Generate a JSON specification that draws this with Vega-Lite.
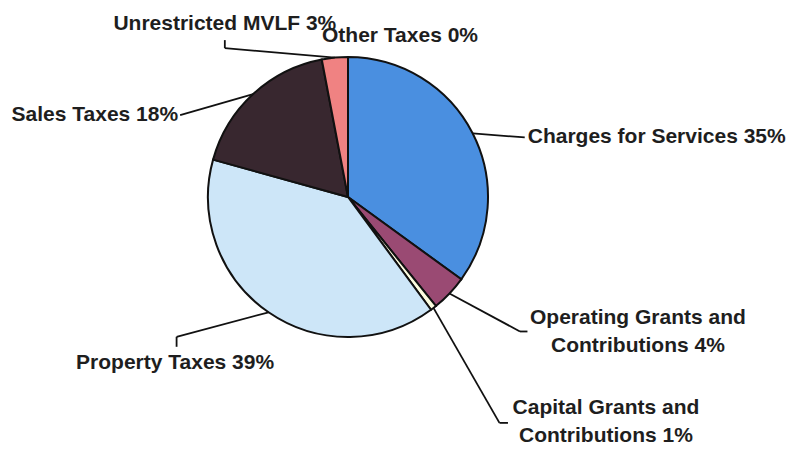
{
  "$schema": "https://vega.github.io/schema/vega-lite/v6.json",
  "width": 280,
  "height": 280,
  "autosize": {"type": "none"},
  "padding": {"left": 208, "top": 57, "right": 298, "bottom": 112},
  "background": "white",
  "config": {"view": {"stroke": null}},
  "data": {
    "values": [
      {"category": "Charges for Services", "label": "Charges for Services 35%", "value": 35.0, "ord": 1},
      {"category": "Operating Grants and Contributions", "label": "Operating Grants and\nContributions 4%", "value": 4.2, "ord": 2},
      {"category": "Capital Grants and Contributions", "label": "Capital Grants and\nContributions 1%", "value": 0.7, "ord": 3},
      {"category": "Property Taxes", "label": "Property Taxes 39%", "value": 39.4, "ord": 4},
      {"category": "Sales Taxes", "label": "Sales Taxes 18%", "value": 17.7, "ord": 5},
      {"category": "Unrestricted MVLF", "label": "Unrestricted MVLF 3%", "value": 3.0, "ord": 6},
      {"category": "Other Taxes", "label": "Other Taxes 0%", "value": 0.0, "ord": 7}
    ]
  },
  "transform": [
    {"window": [{"op": "sum", "field": "value", "as": "cum"}], "sort": [{"field": "ord"}], "frame": [null, 0]},
    {"joinaggregate": [{"op": "sum", "field": "value", "as": "total"}]},
    {"calculate": "2 * PI * (datum.cum - datum.value / 2) / datum.total", "as": "mid"},
    {"calculate": "140 * sin(datum.mid)", "as": "ex"},
    {"calculate": "140 * cos(datum.mid)", "as": "ey"}
  ],
  "layer": [
    {
      "mark": {"type": "arc", "stroke": "#111111", "strokeWidth": 2},
      "encoding": {
        "theta": {"field": "value", "type": "quantitative", "stack": true},
        "order": {"field": "ord", "type": "quantitative"},
        "color": {
          "field": "category",
          "type": "nominal",
          "legend": null,
          "scale": {
            "domain": ["Charges for Services", "Operating Grants and Contributions", "Capital Grants and Contributions", "Property Taxes", "Sales Taxes", "Unrestricted MVLF", "Other Taxes"],
            "range": ["#4a8fe0", "#9a4a73", "#fdfde0", "#cde6f8", "#38272f", "#f08282", "#c8c8c8"]
          }
        }
      }
    },
    {
      "encoding": {
        "x": {"field": "ex", "type": "quantitative", "scale": {"domain": [-140, 140], "nice": false, "zero": false}, "axis": null},
        "y": {"field": "ey", "type": "quantitative", "scale": {"domain": [-140, 140], "nice": false, "zero": false}, "axis": null}
      },
      "layer": [
        {"transform": [{"filter": "datum.ord == 1"}], "mark": {"type": "rule", "color": "#111111", "strokeWidth": 1.8, "x2Offset": 52, "y2Offset": 4}, "encoding": {"x2": {"field": "ex"}, "y2": {"field": "ey"}}},
        {"transform": [{"filter": "datum.ord == 2"}], "mark": {"type": "rule", "color": "#111111", "strokeWidth": 1.8, "x2Offset": 70.5, "y2Offset": 38}, "encoding": {"x2": {"field": "ex"}, "y2": {"field": "ey"}}},
        {"transform": [{"filter": "datum.ord == 2"}], "mark": {"type": "rule", "color": "#111111", "strokeWidth": 1.8, "xOffset": 70.5, "yOffset": 38, "x2Offset": 78, "y2Offset": 38}, "encoding": {"x2": {"field": "ex"}, "y2": {"field": "ey"}}},
        {"transform": [{"filter": "datum.ord == 3"}], "mark": {"type": "rule", "color": "#111111", "strokeWidth": 1.8, "x2Offset": 66, "y2Offset": 115}, "encoding": {"x2": {"field": "ex"}, "y2": {"field": "ey"}}},
        {"transform": [{"filter": "datum.ord == 3"}], "mark": {"type": "rule", "color": "#111111", "strokeWidth": 1.8, "xOffset": 66, "yOffset": 115, "x2Offset": 74.5, "y2Offset": 115}, "encoding": {"x2": {"field": "ex"}, "y2": {"field": "ey"}}},
        {"transform": [{"filter": "datum.ord == 4"}], "mark": {"type": "rule", "color": "#111111", "strokeWidth": 1.8, "x2Offset": -92, "y2Offset": 24.5}, "encoding": {"x2": {"field": "ex"}, "y2": {"field": "ey"}}},
        {"transform": [{"filter": "datum.ord == 4"}], "mark": {"type": "rule", "color": "#111111", "strokeWidth": 1.8, "xOffset": -92, "yOffset": 24.5, "x2Offset": -92, "y2Offset": 34.5}, "encoding": {"x2": {"field": "ex"}, "y2": {"field": "ey"}}},
        {"transform": [{"filter": "datum.ord == 5"}], "mark": {"type": "rule", "color": "#111111", "strokeWidth": 1.8, "x2Offset": -73, "y2Offset": 21}, "encoding": {"x2": {"field": "ex"}, "y2": {"field": "ey"}}},
        {"transform": [{"filter": "datum.ord == 6"}], "mark": {"type": "rule", "color": "#111111", "strokeWidth": 1.8, "x2Offset": -110, "y2Offset": -9.5}, "encoding": {"x2": {"field": "ex"}, "y2": {"field": "ey"}}},
        {"transform": [{"filter": "datum.ord == 6"}], "mark": {"type": "rule", "color": "#111111", "strokeWidth": 1.8, "xOffset": -110, "yOffset": -9.5, "x2Offset": -110, "y2Offset": -17.5}, "encoding": {"x2": {"field": "ex"}, "y2": {"field": "ey"}}},
        {"transform": [{"filter": "datum.ord == 1"}], "mark": {"type": "text", "align": "left", "baseline": "middle", "dx": 55, "dy": 4, "font": "Liberation Sans", "fontSize": 21, "fontWeight": "bold", "color": "#1e1e1e"}, "encoding": {"text": {"field": "label"}}},
        {"transform": [{"filter": "datum.ord == 2"}], "mark": {"type": "text", "align": "center", "baseline": "middle", "dx": 188.5, "dy": 24.5, "lineBreak": "\n", "lineHeight": 28, "font": "Liberation Sans", "fontSize": 21, "fontWeight": "bold", "color": "#1e1e1e"}, "encoding": {"text": {"field": "label"}}},
        {"transform": [{"filter": "datum.ord == 3"}], "mark": {"type": "text", "align": "center", "baseline": "middle", "dx": 172.5, "dy": 100, "lineBreak": "\n", "lineHeight": 28, "font": "Liberation Sans", "fontSize": 21, "fontWeight": "bold", "color": "#1e1e1e"}, "encoding": {"text": {"field": "label"}}},
        {"transform": [{"filter": "datum.ord == 4"}], "mark": {"type": "text", "align": "center", "baseline": "middle", "dx": -93.5, "dy": 50.5, "font": "Liberation Sans", "fontSize": 21, "fontWeight": "bold", "color": "#1e1e1e"}, "encoding": {"text": {"field": "label"}}},
        {"transform": [{"filter": "datum.ord == 5"}], "mark": {"type": "text", "align": "right", "baseline": "middle", "dx": -75, "dy": 21, "font": "Liberation Sans", "fontSize": 21, "fontWeight": "bold", "color": "#1e1e1e"}, "encoding": {"text": {"field": "label"}}},
        {"transform": [{"filter": "datum.ord == 6"}], "mark": {"type": "text", "align": "center", "baseline": "middle", "dx": -110, "dy": -33.5, "font": "Liberation Sans", "fontSize": 21, "fontWeight": "bold", "color": "#1e1e1e"}, "encoding": {"text": {"field": "label"}}},
        {"transform": [{"filter": "datum.ord == 7"}], "mark": {"type": "text", "align": "center", "baseline": "middle", "dx": 52, "dy": -21.5, "font": "Liberation Sans", "fontSize": 21, "fontWeight": "bold", "color": "#1e1e1e"}, "encoding": {"text": {"field": "label"}}}
      ]
    }
  ]
}
